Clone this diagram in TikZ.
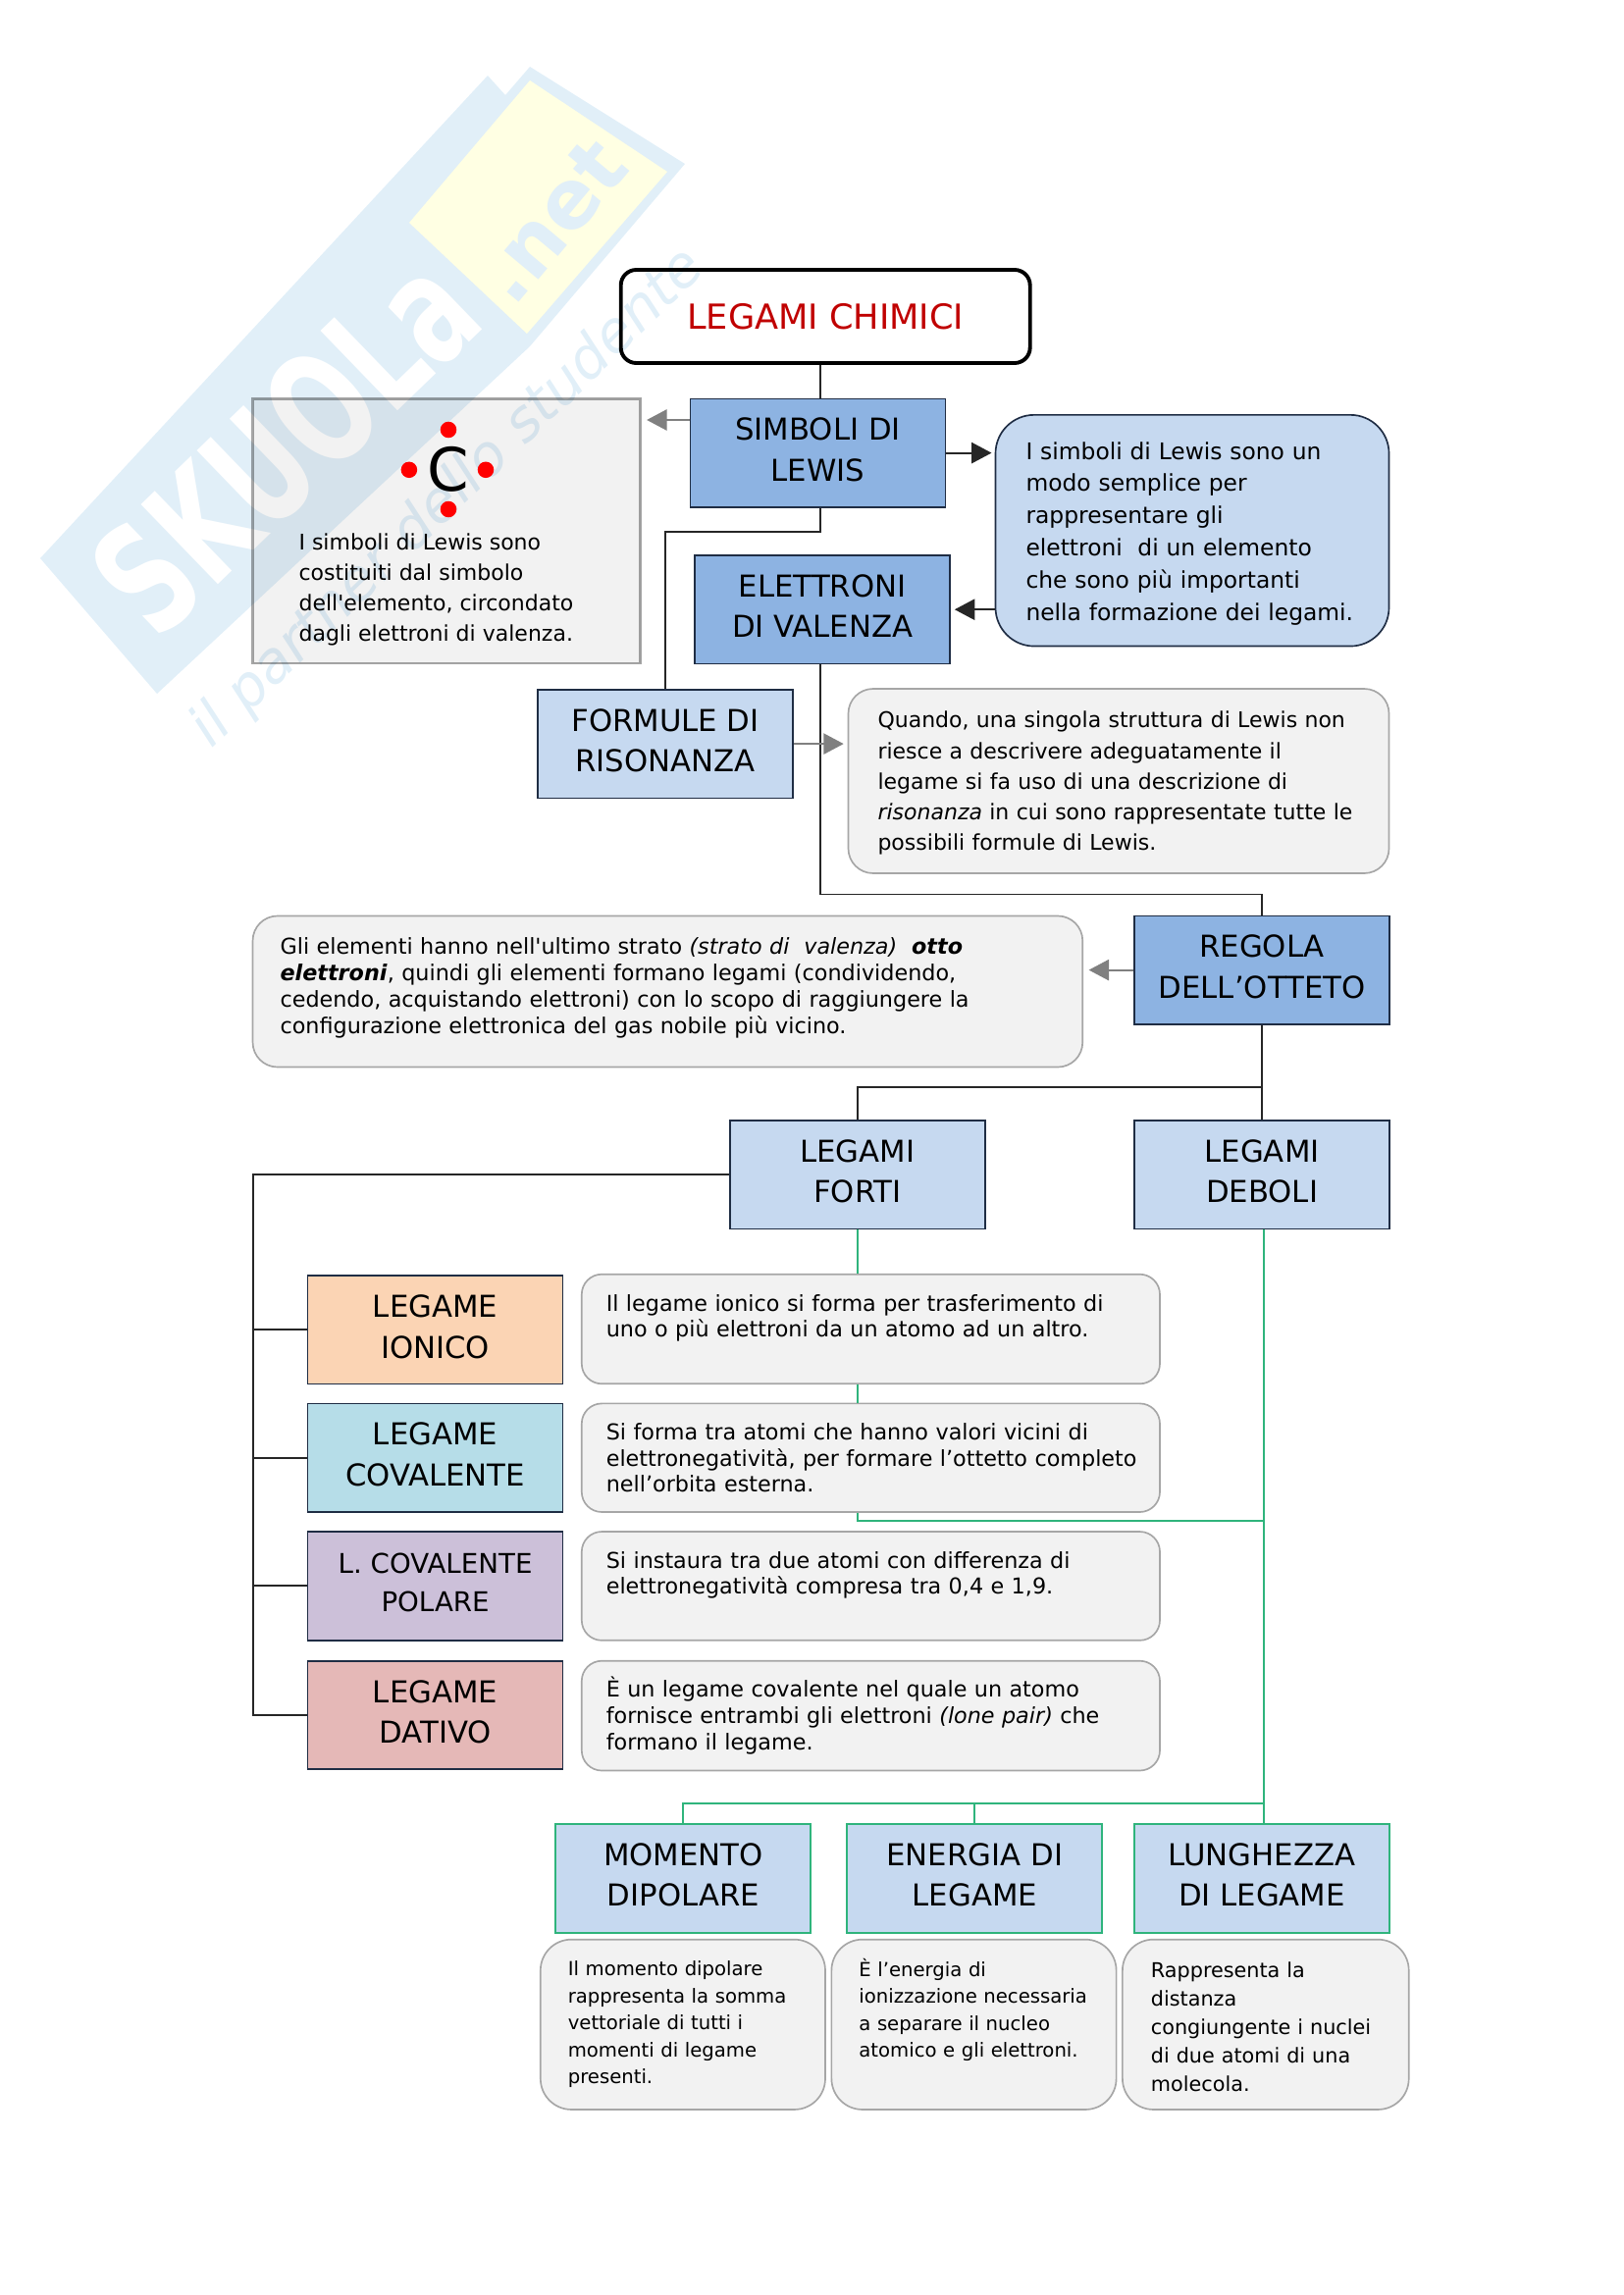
\documentclass[tikz,border=0pt]{standalone}
\usepackage{fontspec}
\setmainfont{DejaVu Sans}[Ligatures=TeXOff]
\usetikzlibrary{arrows.meta}
\definecolor{bluscuro}{HTML}{8DB3E2}
\definecolor{bluchiaro}{HTML}{C6D9F0}
\definecolor{grigino}{HTML}{F2F2F2}
\definecolor{bordino}{HTML}{A6A6A6}
\definecolor{arancio}{HTML}{FBD4B4}
\definecolor{azzurro}{HTML}{B6DDE8}
\definecolor{viola}{HTML}{CCC0D9}
\definecolor{rosa}{HTML}{E5B8B7}
\definecolor{verde}{HTML}{2FB47C}
\definecolor{rosso}{HTML}{C00000}
\definecolor{bordoblu}{HTML}{1F2D44}
\definecolor{filigrana}{HTML}{E1EFF8}
\definecolor{giallino}{HTML}{FFFFE3}

\begin{document}
\begin{tikzpicture}[x=0.12697mm, y=0.12697mm, > = {Triangle[length=2.6mm,width=2.7mm]},
    wh/.style 2 args={minimum width=#1*0.12697mm, minimum height=#2*0.12697mm},
    msg/.style n args={3}{text width=(#1-2*#3)*0.12697mm, inner xsep=#3*0.12697mm, inner ysep=0pt, minimum height=#2*0.12697mm, align=left}]
    \tikzstyle{etichetta}=[draw=bordoblu, line width=.6pt, inner sep=0pt, align=center, font=\fontsize{11.1}{15}\selectfont, execute at end node={\rule[-.9mm]{0pt}{0pt}}]
    \tikzstyle{scura}=[etichetta, fill=bluscuro, wh={260}{110.5}]
    \tikzstyle{chiara}=[etichetta, fill=bluchiaro, wh={260}{110.5}]
    \tikzstyle{tipo}=[etichetta, wh={260}{110.5}]
    \tikzstyle{misura}=[etichetta, draw=verde, fill=bluchiaro, wh={260}{111}]
    \tikzstyle{nota}=[draw=bordino, line width=.6pt, fill=grigino, rounded corners=3.2mm]
    \tikzstyle{testo}=[font=\fontsize{7.95}{11.2}\selectfont]
    \tikzstyle{medio}=[font=\fontsize{8.05}{9.7}\selectfont]
    \tikzstyle{piccolo}=[font=\fontsize{7.1}{9.9}\selectfont]
    \tikzstyle{nero}=[line width=.7pt, black!85]
    \tikzstyle{grigio}=[line width=.7pt, black!50]
    \tikzstyle{linea}=[line width=.7pt, verde]
    \tikzstyle{punto}=[circle, fill=red, inner sep=0pt, minimum size=2.1mm]

    \useasboundingbox (0,0) rectangle (1654,-2339);

    % Filigrana
    \fill[filigrana] (497,-77) -- (41,-569) -- (160,-707) -- (540,-353) -- (698,-167) -- (540,-68) -- (515,-97) -- cycle;
    \fill[giallino] (540,-82) -- (680,-175) -- (537,-340) -- (417,-227) -- cycle;
    \node[rotate=44, xscale=.68, text=white, font=\fontsize{56}{58}\selectfont\bfseries] (marchio) at (290,-452) {SKUOLa};
    \node[rotate=50, text=filigrana, font=\fontsize{30}{32}\selectfont\bfseries] (dotnet) at (562,-225) {.net};
    \node[rotate=44, text=filigrana, font=\fontsize{21}{23}\selectfont\itshape] (motto) at (457,-508) {il partner dello studente};

    % Nodi
    \node[draw, line width=1.4pt, rounded corners=2mm, wh={417}{95}, text=rosso, font=\fontsize{12.7}{15}\selectfont] (titolo) at (841.2,-322.5) {LEGAMI CHIMICI};
    \node[scura] (simboli) at (833.5,-461.6) {SIMBOLI DI\\LEWIS};
    \node[draw=bordino, line width=.8pt, fill=grigino, blend mode=multiply, wh={395}{269.5}] (esempio) at (455,-541.2) {};
    \node[font=\fontsize{22}{25}\selectfont] (carbonio) at (457,-478.4) {C};
    \node[punto] (p1) at (457,-438) {};
    \node[punto] (p2) at (457,-519) {};
    \node[punto] (p3) at (416.9,-478.8) {};
    \node[punto] (p4) at (495,-478.8) {};
    \node[testo, anchor=west, align=left, inner sep=0pt] (lewis) at (304,-601) {I simboli di Lewis sono\\costituiti dal simbolo\\dell'elemento, circondato\\dagli elettroni di valenza.};
    \node[nota, fill=bluchiaro, draw=bordoblu, rounded corners=5mm, msg={401}{235.7}{31}, font=\fontsize{8.45}{11.85}\selectfont, execute at begin node={\rule{0pt}{3mm}}] (bolla) at (1215,-540.7) {I simboli di Lewis sono un\\modo semplice per\\rappresentare gli\\elettroni~ di un elemento\\che sono più importanti\\nella formazione dei legami.};
    \node[scura] (elettroni) at (838.1,-621.2) {ELETTRONI\\DI VALENZA};
    \node[chiara] (formule) at (678.1,-758.1) {FORMULE DI\\RISONANZA};
    \node[nota, font=\fontsize{7.95}{11.3}\selectfont, msg={551}{188}{30}, execute at begin node={\rule{0pt}{2.7mm}}] (quando) at (1140,-796) {Quando, una singola struttura di Lewis non\\riesce a descrivere adeguatamente il\\legame si fa uso di una descrizione di\\\textit{risonanza} in cui sono rappresentate tutte le\\possibili formule di Lewis.};
    \node[scura] (regola) at (1286.1,-988.6) {REGOLA\\DELL’OTTETO};
    \node[nota, medio, msg={845.7}{154}{28}] (ottetto) at (680.4,-1010.5) {Gli elementi hanno nell'ultimo strato \textit{(strato di~ valenza)}~ \textbf{\textit{otto}}\\\textbf{\textit{elettroni}}, quindi gli elementi formano legami (condividendo,\\cedendo, acquistando elettroni) con lo scopo di raggiungere la\\configurazione elettronica del gas nobile più vicino.\rule[-1.55mm]{0pt}{0pt}};
    \node[chiara] (forti) at (873.7,-1197.1) {LEGAMI\\FORTI};
    \node[chiara] (deboli) at (1286.1,-1197.1) {LEGAMI\\DEBOLI};

    \node[tipo, fill=arancio] (ionico) at (443.6,-1355.4) {LEGAME\\IONICO};
    \node[tipo, fill=azzurro] (covalente) at (443.6,-1485.7) {LEGAME\\COVALENTE};
    \node[tipo, fill=viola, font=\fontsize{10}{14}\selectfont, execute at begin node={\rule{0pt}{5.6mm}}] (polare) at (443.6,-1616.4) {L. COVALENTE\\POLARE};
    \node[tipo, fill=rosa] (dativo) at (443.6,-1748) {LEGAME\\DATIVO};
    \node[nota, medio, rounded corners=2.6mm, msg={589.2}{111.6}{25}] (tionico) at (887.4,-1354.5) {Il legame ionico si forma per trasferimento di\\uno o più elettroni da un atomo ad un altro.\\~};
    \node[nota, medio, rounded corners=2.6mm, msg={589.2}{110.6}{25}] (tcovalente) at (887.4,-1485.7) {Si forma tra atomi che hanno valori vicini di\\\mbox{elettronegatività, per formare l’ottetto completo}\\nell’orbita esterna.};
    \node[nota, medio, rounded corners=2.6mm, msg={589.2}{110.8}{25}] (tpolare) at (887.4,-1616.4) {Si instaura tra due atomi con differenza di\\elettronegatività compresa tra 0,4 e 1,9.\\~};
    \node[nota, medio, rounded corners=2.6mm, msg={589.2}{111.8}{25}] (tdativo) at (887.4,-1748.6) {È un legame covalente nel quale un atomo\\fornisce entrambi gli elettroni \textit{(lone pair)} che\\formano il legame.};

    \node[misura] (momento) at (696.3,-1914.3) {MOMENTO\\DIPOLARE};
    \node[misura] (energia) at (993.3,-1914.3) {ENERGIA DI\\LEGAME};
    \node[misura] (lunghezza) at (1285.9,-1914.3) {LUNGHEZZA\\DI LEGAME};
    \node[nota, piccolo, rounded corners=4mm, msg={290.2}{173.3}{28}] (tmomento) at (695.9,-2063.3) {Il momento dipolare\\rappresenta la somma\\vettoriale di tutti i\\momenti di legame\\presenti.};
    \node[nota, piccolo, rounded corners=4mm, msg={290.2}{173.3}{28}] (tenergia) at (992.5,-2063.3) {È l’energia di\\ionizzazione necessaria\\a separare il nucleo\\atomico e gli elettroni.\\~\rule[-.8mm]{0pt}{0pt}};
    \node[nota, rounded corners=4mm, msg={291.8}{173.3}{29}, font=\fontsize{7.5}{10.55}\selectfont, execute at begin node={\rule{0pt}{2.6mm}}] (tlunghezza) at (1289.8,-2063.3) {Rappresenta la\\distanza\\congiungente i nuclei\\di due atomi di una\\molecola.};

    \coordinate (asse) at (836.2,-541.6);
    \coordinate (ramo) at (1286.1,-1107.6);
    \coordinate (sx) at (257.6,-1197.3);
    \coordinate (snodo) at (1287.8,-1550.4);
    \coordinate (dist) at (1287.8,-1838.4);

    % Collegamenti
    \draw[nero] (titolo.south -| asse) -- (simboli.north -| asse);
    \draw[nero] (simboli.south -| asse) |- (asse) -| (formule.north);
    \draw[nero] (elettroni.south -| asse) |- (837,-911.5) -| (regola.north);
    \draw[nero, ->, shorten >=.4mm] (simboli.east) -- (bolla.west |- simboli.east);
    \draw[nero, ->, shorten >=.5mm] (bolla.west |- elettroni.east) -- (elettroni.east);
    \draw[grigio, ->, shorten >=.7mm] (simboli.west |- 0,-428) -- (esempio.east |- 0,-428);
    \draw[grigio, ->, shorten >=.5mm] (formule.east) -- (quando.west |- formule.east);
    \draw[grigio, ->, shorten >=.7mm] (regola.west) -- (ottetto.east |- regola.west);
    \draw[nero] (regola.south) -- (deboli.north);
    \draw[nero] (ramo) -| (forti.north);
    \draw[nero] (forti.west) -| (sx |- dativo.west) -- (dativo.west);
    \draw[nero] (ionico.west) -- (sx |- ionico.west);
    \draw[nero] (covalente.west) -- (sx |- covalente.west);
    \draw[nero] (polare.west) -- (sx |- polare.west);

    \draw[linea] (forti.south) -- (tionico.north -| forti);
    \draw[linea] (tionico.south -| forti) -- (tcovalente.north -| forti);
    \draw[linea] (tcovalente.south -| forti) |- (snodo);
    \draw[linea] (deboli.south -| snodo) -- (lunghezza.north -| snodo);
    \draw[linea] (momento.north) |- (dist);
    \draw[linea] (energia.north) -- (energia.north |- dist);
\end{tikzpicture}
\end{document}
